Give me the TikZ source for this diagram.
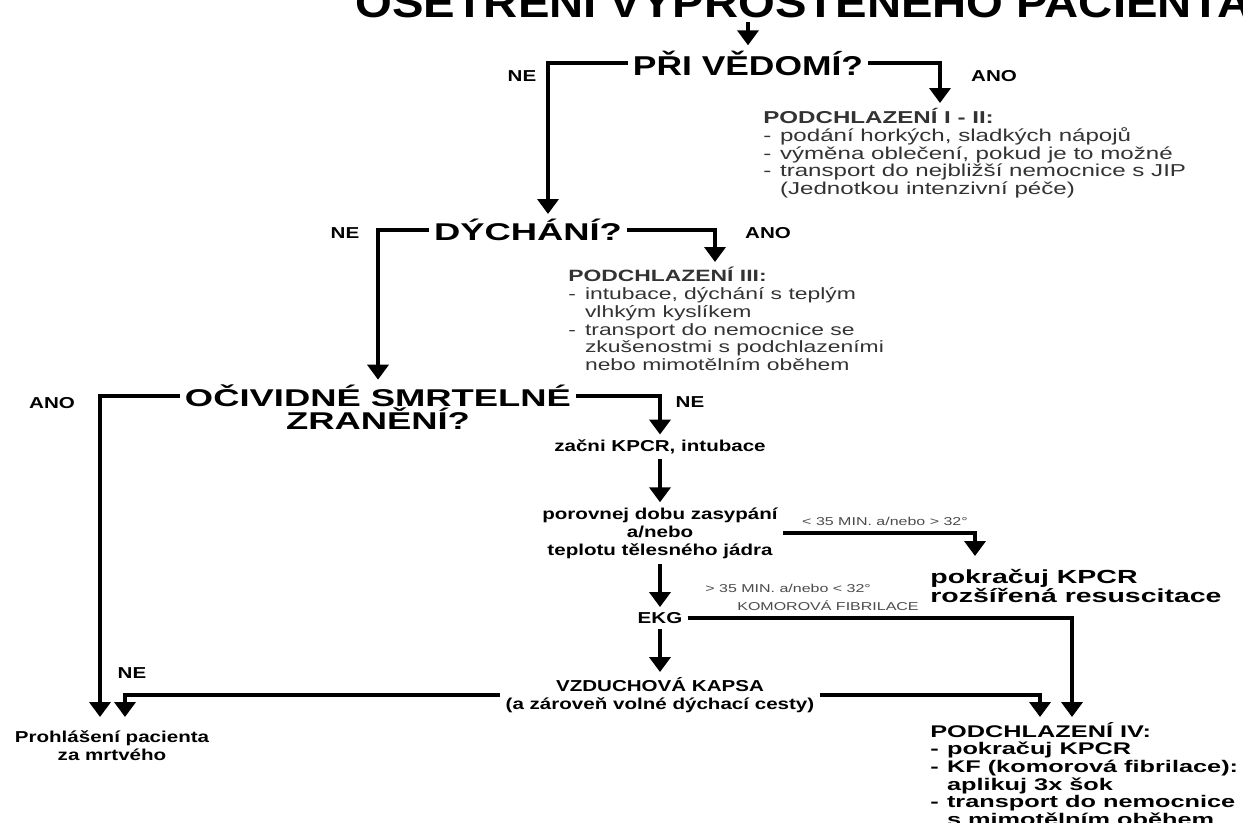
\documentclass[tikz,border=0pt]{standalone}
\usepackage{fontspec}
\setmainfont[FakeStretch=1.3]{Liberation Sans}
\newfontfamily\widefont[FakeStretch=1.5]{Liberation Sans}
\newfontfamily\bodyfont[FakeStretch=1.4]{Liberation Sans}
\newfontfamily\titlefont[FakeStretch=1.12]{Liberation Sans}
\usetikzlibrary{arrows.meta}

\newcommand{\itm}{\makebox[9.5pt][l]{-}}
\newcommand{\cnt}{\hspace*{9.5pt}}

\tikzset{
	flow/.style={line width=0.8mm, line join=miter, -{Triangle[width=4.2mm,length=3mm]}},
	titletext/.style={font=\titlefont\bfseries\fontsize{24}{24}\selectfont, inner sep=0pt},
	bigq/.style={font=\bfseries\fontsize{15.5}{16}\selectfont, inner sep=1mm},
	question/.style={font=\widefont\bfseries\fontsize{13.8}{13.5}\selectfont, align=center, inner sep=1mm},
	action/.style={font=\bfseries\fontsize{9}{10.2}\selectfont, align=center, inner sep=1mm},
	answer/.style={font=\bfseries\fontsize{9}{9}\selectfont, inner sep=0pt},
	remark/.style={font=\bodyfont\fontsize{6.5}{7}\selectfont, text=black!70, inner sep=0pt},
	careblock/.style={font=\bodyfont\fontsize{9.8}{10.1}\selectfont, text=black!80, align=left, anchor=north west, inner sep=0pt},
	bigcare/.style={font=\widefont\bfseries\fontsize{9.6}{10}\selectfont, align=left, anchor=north west, inner sep=0pt},
}

\begin{document}
\begin{tikzpicture}[x=0.2mm,y=-0.2mm]
	\fill[white] (0,0) rectangle (1243,822);
	\useasboundingbox (0,0) rectangle (1243,822);
	% title, cut by the top edge
	\node[titletext, anchor=base west] (title) at (355,17) {OŠETŘENÍ VYPROŠTĚNÉHO PACIENTA};
	\coordinate (top) at (748,22);
	% questions
	\node[bigq] (vedomi) at (748,63) {PŘI VĚDOMÍ?};
	\node[question] (dychani) at (528,230) {DÝCHÁNÍ?};
	\node[question] (zran1) at (378,396) {OČIVIDNÉ SMRTELNÉ};
	\node[question] (zran2) at (378,419) {ZRANĚNÍ?};
	% answers
	\node[answer] (ne1) at (522,76) {NE};
	\node[answer] (ano1) at (994,76) {ANO};
	\node[answer] (ne2) at (345,233) {NE};
	\node[answer] (ano2) at (768,233) {ANO};
	\node[answer] (ano3) at (52,403) {ANO};
	\node[answer] (ne3) at (690,402) {NE};
	\node[answer] (ne4) at (132,673) {NE};
	% care
	\node[careblock] (pod12) at (763,108) {\textbf{PODCHLAZENÍ I - II:}\\
		\itm podání horkých, sladkých nápojů\\
		\itm výměna oblečení, pokud je to možné\\
		\itm transport do nejbližší nemocnice s JIP\\
		\cnt(Jednotkou intenzivní péče)};
	\node[careblock, font=\bodyfont\fontsize{9.3}{10.1}\selectfont] (pod3) at (568,267) {\textbf{PODCHLAZENÍ III:}\\
		\itm intubace, dýchání s teplým\\
		\cnt vlhkým kyslíkem\\
		\itm transport do nemocnice se\\
		\cnt zkušenostmi s podchlazeními\\
		\cnt nebo mimotělním oběhem};
	\node[action] (kpcr) at (660,447) {začni KPCR, intubace};
	\node[action] (porovnej) at (660,533) {porovnej dobu zasypání\\a/nebo\\teplotu tělesného jádra};
	\node[bigcare, font=\widefont\bfseries\fontsize{10.8}{10.6}\selectfont] (pokracuj) at (930,569) {pokračuj KPCR\\rozšířená resuscitace};
	\node[action] (ekg) at (660,618) {EKG};
	\node[action] (kapsa) at (660,695) {VZDUCHOVÁ KAPSA\\(a zároveň volné dýchací cesty)};
	\node[action] (prohl) at (112,746) {Prohlášení pacienta\\za mrtvého};
	\node[bigcare] (pod4) at (930,722) {PODCHLAZENÍ IV:\\
		\itm pokračuj KPCR\\
		\itm KF (komorová fibrilace):\\
		\cnt aplikuj 3x šok\\
		\itm transport do nemocnice\\
		\cnt s mimotělním oběhem};
	% conditions
	\node[remark] (lt35) at (885,521) {< 35 MIN. a/nebo > 32°};
	\node[remark, anchor=west] (gt35) at (705,588) {> 35 MIN. a/nebo < 32°};
	\node[remark] (kf) at (828,606) {KOMOROVÁ FIBRILACE};
	% arrow ends
	\coordinate (in12) at (940,103);
	\coordinate (in2) at (548,214);
	\coordinate (in3) at (715,262);
	\coordinate (in5) at (975,556);
	\coordinate (dead1) at (100,717);
	\coordinate (dead2) at (125,717);
	\coordinate (in4a) at (1040,717);
	\coordinate (in4b) at (1072,717);
	% connectors
	\draw[flow] (top) -- (vedomi);
	\draw[flow] (vedomi.west) -| (in2);
	\draw[flow] (vedomi.east) -| (in12);
	\draw[flow] (dychani.west) -| (zran1);
	\draw[flow] (dychani.east) -| (in3);
	\draw[flow] (zran1.west) -| (dead1);
	\draw[flow] (zran1.east) -| (kpcr);
	\draw[flow] (kpcr) -- (porovnej);
	\draw[flow] (porovnej.east) -| (in5);
	\draw[flow] (porovnej) -- (ekg);
	\draw[flow] (ekg.east) -| (in4b);
	\draw[flow] (ekg) -- (kapsa);
	\draw[flow] (kapsa.west) -| (dead2);
	\draw[flow] (kapsa.east) -| (in4a);
\end{tikzpicture}
\end{document}
